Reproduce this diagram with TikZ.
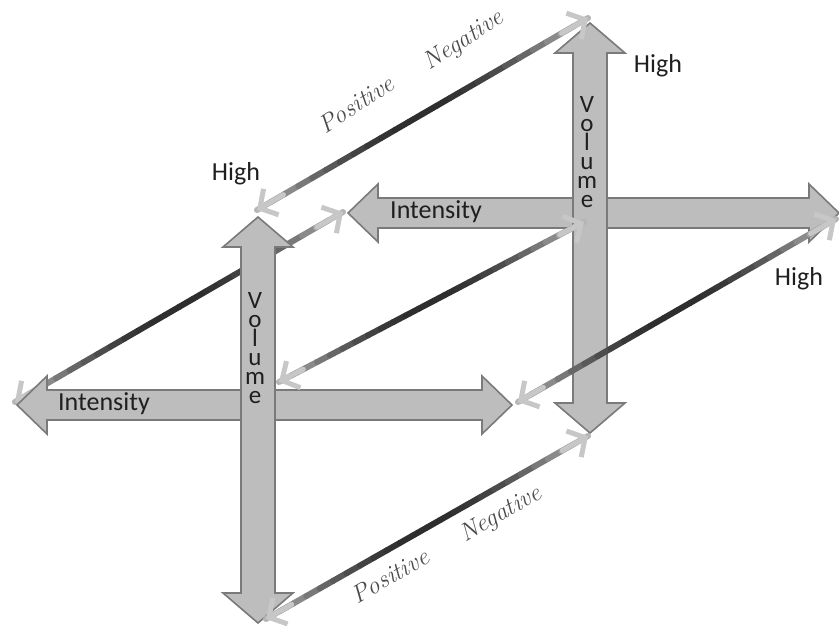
\documentclass[tikz,border=0pt]{standalone}
\usepackage{fontspec}
\setmainfont{Carlito}
\usetikzlibrary{calc,arrows.meta}
\definecolor{axisfill}{HTML}{BDBDBD}
\definecolor{axisline}{HTML}{7A7A7A}
\tikzset{
  arrowbody/.style={fill=axisfill, draw=axisline, line width=1.6pt, line join=miter},
  linkhead/.style={line width=5pt, color=black!22, -{Straight Barb[length=13pt,width=30pt]}},
  lbl/.style={font=\fontsize{26}{28}\selectfont, text=black!88, inner sep=0pt},
  vol/.style={font=\fontsize{25}{19}\selectfont, text=black!88, align=center, inner sep=0pt},
  hand/.style={font=\fontfamily{lmr}\itshape\fontsize{25}{27}\selectfont, text=black!70, inner sep=0pt}
}
\def\harrow(#1,#2)(#3){\draw[arrowbody] (#1,#3) -- ({#1+30},{#3-29}) -- ({#1+30},{#3-15}) -- ({#2-30},{#3-15}) -- ({#2-30},{#3-29}) -- (#2,#3) -- ({#2-30},{#3+29}) -- ({#2-30},{#3+15}) -- ({#1+30},{#3+15}) -- ({#1+30},{#3+29}) -- cycle;}
\def\varrow(#1)(#2,#3){\draw[arrowbody] (#1,#2) -- ({#1+35},{#2+30}) -- ({#1+17},{#2+30}) -- ({#1+17},{#3-30}) -- ({#1+35},{#3-30}) -- (#1,#3) -- ({#1-35},{#3-30}) -- ({#1-17},{#3-30}) -- ({#1-17},{#2+30}) -- ({#1-35},{#2+30}) -- cycle;}
\def\link(#1)(#2){%
  \foreach \i in {0,...,23}{%
    \pgfmathsetmacro\ta{\i/24}
    \pgfmathsetmacro\tb{(\i+1)/24}
    \pgfmathsetmacro\uu{2*(\i+0.5)/24-1}
    \pgfmathtruncatemacro\dk{25+58*(1-\uu*\uu)}
    \draw[line width=6pt, color=black!\dk] ($(#1)!\ta!(#2)$) -- ($(#1)!\tb!(#2)$);
  }
  \draw[linkhead] ($(#1)!0.08!(#2)$) -- (#1);
  \draw[linkhead] ($(#2)!0.08!(#1)$) -- (#2);
}

\begin{document}
\begin{tikzpicture}[x=1pt,y=-1pt,line cap=round,line join=round]
		\useasboundingbox (0,0) rectangle (839,626);
		
		%%%%% ENDS OF THE LINKS %%%%%
		\coordinate (topA) at (257,210);   \coordinate (topB) at (588,18);
		\coordinate (leftA) at (15,402);   \coordinate (leftB) at (343,212);
		\coordinate (midA) at (279,382);   \coordinate (midB) at (584,222);
		\coordinate (rightA) at (518,402); \coordinate (rightB) at (836,219);
		\coordinate (botA) at (266,619);   \coordinate (botB) at (588,436);
		
		%%%%% BACK CROSS %%%%%
		\harrow(348,839)(213)
		\varrow(590)(23,433)
		
		\link(leftA)(leftB)
		
		%%%%% FRONT CROSS %%%%%
		\harrow(17,512)(405)
		\varrow(258)(217,623)
		
		\link(topA)(topB)
		\link(midA)(midB)
		\link(rightA)(rightB)
		\link(botA)(botB)
		
		%%%%% TEXT %%%%%
		\node[lbl] (intfront) at (104,404) {Intensity};
		\node[lbl] (intback) at (436,212) {Intensity};
		\node[vol] (volfront) at (255,348) {V\\o\\l\\u\\m\\e};
		\node[vol] (volback) at (587,152) {V\\o\\l\\u\\m\\e};
		
		\node[lbl] (highfront) at (236,174) {High};
		\node[lbl] (hightop) at (658,66) {High};
		\node[lbl] (highright) at (799,279) {High};
		
		\node[hand, rotate=33] (postop) at (356,104) {Positive};
		\node[hand, rotate=33] (negtop) at (464,41) {Negative};
		\node[hand, rotate=30] (posbot) at (390,576) {Positive};
		\node[hand, rotate=30] (negbot) at (501,515) {Negative};
		
\end{tikzpicture}
\end{document}
